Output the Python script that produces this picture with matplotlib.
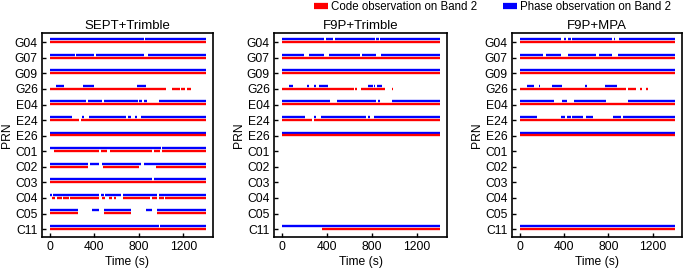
import matplotlib
matplotlib.use("Agg")
import matplotlib.pyplot as plt
from matplotlib.lines import Line2D

plt.rcParams['font.family'] = ['Liberation Sans', 'DejaVu Sans']
plt.rcParams['font.size'] = 8

prns = ["G04", "G07", "G09", "G26", "E04", "E24", "E26",
        "C01", "C02", "C03", "C04", "C05", "C11"]
titles = ["SEPT+Trimble", "F9P+Trimble", "F9P+MPA"]
xticks = [0, 400, 800, 1200]
T = 1400

# Segments (start, end) in seconds, per PRN
sept_code = {
    "G04": [(0, T)], "G07": [(0, T)], "G09": [(0, T)],
    "G26": [(0, 1040), (1100, 1170), (1180, 1215), (1230, 1265)],
    "E04": [(0, T)], "E24": [(0, 258), (279, T)], "E26": [(0, T)],
    "C01": [(42, 438), (459, 513), (543, 918), (933, 993), (1008, T)],
    "C02": [(0, 339), (474, 798), (954, T)],
    "C03": [(0, T)],
    "C04": [(24, 48), (69, 114), (123, 168), (183, 444), (468, 498), (528, 558),
            (573, 594), (657, 903), (918, 963), (984, 1023), (1038, T)],
    "C05": [(0, 252), (483, 732), (963, T)],
    "C11": [(0, T)],
}
sept_phase = {
    "G04": [(0, 843), (858, T)],
    "G07": [(0, 222), (237, 400), (417, 843), (879, T)],
    "G09": [(0, T)],
    "G26": [(60, 126), (294, 396), (783, 861)],
    "E04": [(0, 324), (339, 468), (489, 792), (804, 828), (843, 873), (978, T)],
    "E24": [(0, 198), (288, 309), (348, 684), (699, 732), (762, 783), (819, T)],
    "E26": [(0, T)],
    "C01": [(0, 1000), (1008, T)],
    "C02": [(0, 339), (363, 438), (468, 819), (843, T)],
    "C03": [(0, 918), (933, T)],
    "C04": [(0, 18), (33, 444), (459, 483), (498, 642), (657, 963), (984, T)],
    "C05": [(0, 252), (378, 438), (483, 732), (867, 918), (963, T)],
    "C11": [(0, 978), (990, T)],
}
f9pt_code = {
    "G04": [(0, T)], "G07": [(0, T)], "G09": [(0, T)],
    "G26": [(0, 640), (650, 665), (702, 917), (976, 985)],
    "E04": [(0, T)], "E24": [(0, 268), (283, T)], "E26": [(0, T)],
    "C01": [], "C02": [], "C03": [], "C04": [], "C05": [],
    "C11": [(357, T)],
}
f9pt_phase = {
    "G04": [(0, 372), (392, 454), (475, 823), (838, 858), (873, T)],
    "G07": [(0, 195), (239, 372), (422, 690), (711, 838), (879, T)],
    "G09": [(0, T)],
    "G26": [(59, 100), (224, 242), (289, 307), (327, 407), (764, 808),
            (814, 830), (847, 888)],
    "E04": [(0, 425), (490, 833), (850, 870), (976, T)],
    "E24": [(0, 209), (289, 304), (351, 749), (764, 784), (814, T)],
    "E26": [(0, T)],
    "C01": [], "C02": [], "C03": [], "C04": [], "C05": [],
    "C11": [(0, T)],
}
f9pm_code = {
    "G04": [(0, T)], "G07": [(0, T)], "G09": [(0, T)],
    "G26": [(0, 964), (979, 1047), (1091, 1105), (1141, 1155)],
    "E04": [(0, T)], "E24": [(0, T)], "E26": [(0, T)],
    "C01": [], "C02": [], "C03": [], "C04": [], "C05": [],
    "C11": [(0, T)],
}
f9pm_phase = {
    "G04": [(0, 370), (400, 415), (435, 459), (473, 835), (850, 864), (894, T)],
    "G07": [(0, 209), (238, 370), (435, 688), (714, 835), (885, T)],
    "G09": [(0, T)],
    "G26": [(68, 129), (171, 185), (291, 385), (591, 606), (773, 876)],
    "E04": [(0, 312), (385, 423), (494, 776), (982, T)],
    "E24": [(0, 156), (370, 406), (423, 459), (473, 576), (600, 664),
            (847, 915), (932, T)],
    "E26": [(0, T)],
    "C01": [], "C02": [], "C03": [], "C04": [], "C05": [],
    "C11": [(0, T)],
}

panels = [(sept_code, sept_phase), (f9pt_code, f9pt_phase), (f9pm_code, f9pm_phase)]

RED = "#ff0000"
BLUE = "#0000ff"

fig = plt.figure(figsize=(6.85, 2.72), dpi=100)
lefts = [0.0613, 0.400, 0.7474]
widths = [0.2496, 0.2526, 0.248]
for k, (code, phase) in enumerate(panels):
    ax = fig.add_axes([lefts[k], 0.129, widths[k], 0.75])
    for i, p in enumerate(prns):
        for (a, b) in phase[p]:
            ax.plot([a, b], [i - 0.2, i - 0.2], color=BLUE, lw=1.7,
                    solid_capstyle='butt')
        for (a, b) in code[p]:
            ax.plot([a, b], [i - 0.02, i - 0.02], color=RED, lw=1.7,
                    solid_capstyle='butt')
    ax.set_ylim(12.5, -0.6)
    ax.set_xlim(-70, 1465)
    ax.set_yticks(range(len(prns)))
    ax.set_yticklabels(prns)
    ax.set_xticks(xticks)
    ax.tick_params(direction='in', length=3, width=1, labelsize=8.7, pad=3)
    for s in ax.spines.values():
        s.set_linewidth(1.2)
    ax.set_title(titles[k], fontsize=9.5, pad=2.5)
    ax.set_xlabel("Time (s)", fontsize=8.7, labelpad=2)
    ax.set_ylabel("PRN", fontsize=8.7, labelpad=1)

handles = [Line2D([], [], color=RED, lw=4.5, solid_capstyle='butt'),
           Line2D([], [], color=BLUE, lw=4.5, solid_capstyle='butt')]
fig.legend(handles, ["Code observation on Band 2", "Phase observation on Band 2"],
           loc='upper right', bbox_to_anchor=(0.995, 1.035), ncol=2, frameon=False,
           fontsize=8.3, handlelength=1.2, handletextpad=0.3, columnspacing=2.2)

fig.savefig("out.png", dpi=100)
